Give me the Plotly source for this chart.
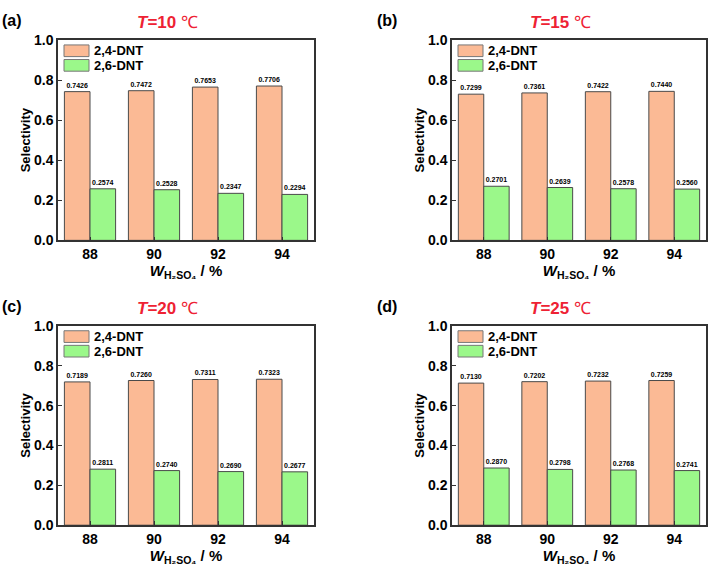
import plotly.graph_objects as go

W, H = 709, 575

categories = ["88", "90", "92", "94"]
temperatures = ["10", "15", "20", "25"]
panel_labels = ["(a)", "(b)", "(c)", "(d)"]
dnt24 = [
    [0.7426, 0.7472, 0.7653, 0.7706],
    [0.7299, 0.7361, 0.7422, 0.7440],
    [0.7189, 0.7260, 0.7311, 0.7323],
    [0.7130, 0.7202, 0.7232, 0.7259],
]
dnt26 = [
    [0.2574, 0.2528, 0.2347, 0.2294],
    [0.2701, 0.2639, 0.2578, 0.2560],
    [0.2811, 0.2740, 0.2690, 0.2677],
    [0.2870, 0.2798, 0.2768, 0.2741],
]
series_names = ["2,4-DNT", "2,6-DNT"]
yticks = [0.0, 0.2, 0.4, 0.6, 0.8, 1.0]

ORANGE = "#FBBA95"
GREEN = "#9BF88A"
EDGE = "#4a4a4a"
FONT = "Liberation Sans"

# pixel boxes of plot areas: (left, right, top, bottom)
boxes = [(58, 314, 33, 239), (452, 706, 33, 239), (58, 314, 327, 532), (452, 706, 327, 532)]

fig = go.Figure()
layout = dict(
    width=W, height=H, margin=dict(l=0, r=0, t=0, b=0),
    paper_bgcolor="white", plot_bgcolor="white",
    barmode="group", bargap=0.2, bargroupgap=0.0,
    font=dict(family=FONT, color="black"),
    annotations=[], shapes=[], showlegend=False,
)

for i in range(4):
    ax = "" if i == 0 else str(i + 1)
    l, r, t, b = boxes[i]
    colors = (ORANGE, GREEN)
    for name, vals, col in zip(series_names, (dnt24[i], dnt26[i]), colors):
        fig.add_trace(go.Bar(
            x=categories, y=vals, name=name,
            xaxis="x" + ax, yaxis="y" + ax,
            marker=dict(color=col, line=dict(color=EDGE, width=1)),
            texttemplate="%{y:.4f}", textposition="outside",
            textfont=dict(size=7, color="black", family=FONT, weight="bold"),
            cliponaxis=False, constraintext="none",
        ))
    axis_common = dict(
        showline=True, mirror=True, linecolor="#333", linewidth=1.5,
        ticks="inside", ticklen=4, tickwidth=1.2, tickcolor="#333",
        showgrid=False, zeroline=False,
        tickfont=dict(size=14, family=FONT, weight="bold", color="black"),
    )
    layout["xaxis" + ax] = dict(
        axis_common, domain=[l / W, r / W], anchor="y" + ax,
        type="category", range=[-0.5, 3.5],
        title=dict(text="<i>W</i><sub>H₂SO₄</sub> / %", standoff=4,
                   font=dict(size=15, family=FONT, weight="bold")),
    )
    layout["yaxis" + ax] = dict(
        axis_common, domain=[1 - b / H, 1 - t / H], anchor="x" + ax,
        range=[0, 1.0], tickvals=yticks, tickformat=".1f",
        title=dict(text="Selectivity", standoff=0,
                   font=dict(size=13, family=FONT, weight="bold")),
    )
    # legend (drawn as swatches + labels inside top-left corner)
    for k, (name, col) in enumerate(zip(series_names, colors)):
        y0 = t + 5 + k * 15
        layout["shapes"].append(dict(
            type="rect", xref="paper", yref="paper",
            x0=(l + 6) / W, x1=(l + 31) / W, y0=1 - y0 / H, y1=1 - (y0 + 12) / H,
            fillcolor=col, line=dict(color="#777", width=1),
        ))
        layout["annotations"].append(dict(
            text=name, x=(l + 34) / W, y=1 - (y0 + 6) / H,
            xref="paper", yref="paper", showarrow=False, xanchor="left", yanchor="middle",
            font=dict(size=13, family=FONT, weight="bold", color="black"),
        ))
    cx = (l + r) / 2 - 19
    layout["annotations"].append(dict(
        text=f"<i>T</i>={temperatures[i]} <span style='font-weight:normal'>℃</span>",
        x=cx / W, y=1 - (t - 18) / H,
        xref="paper", yref="paper", showarrow=False, xanchor="center", yanchor="middle",
        font=dict(size=17, family=FONT, weight="bold", color="#EE2233"),
    ))
    layout["annotations"].append(dict(
        text=panel_labels[i], x=(l - 58 if i % 2 == 0 else l - 77) / W, y=1 - (t - 20) / H,
        xref="paper", yref="paper", showarrow=False, xanchor="left", yanchor="middle",
        font=dict(size=16, family=FONT, weight="bold", color="black"),
    ))

fig.update_layout(**layout)
fig.write_html("out.html")
